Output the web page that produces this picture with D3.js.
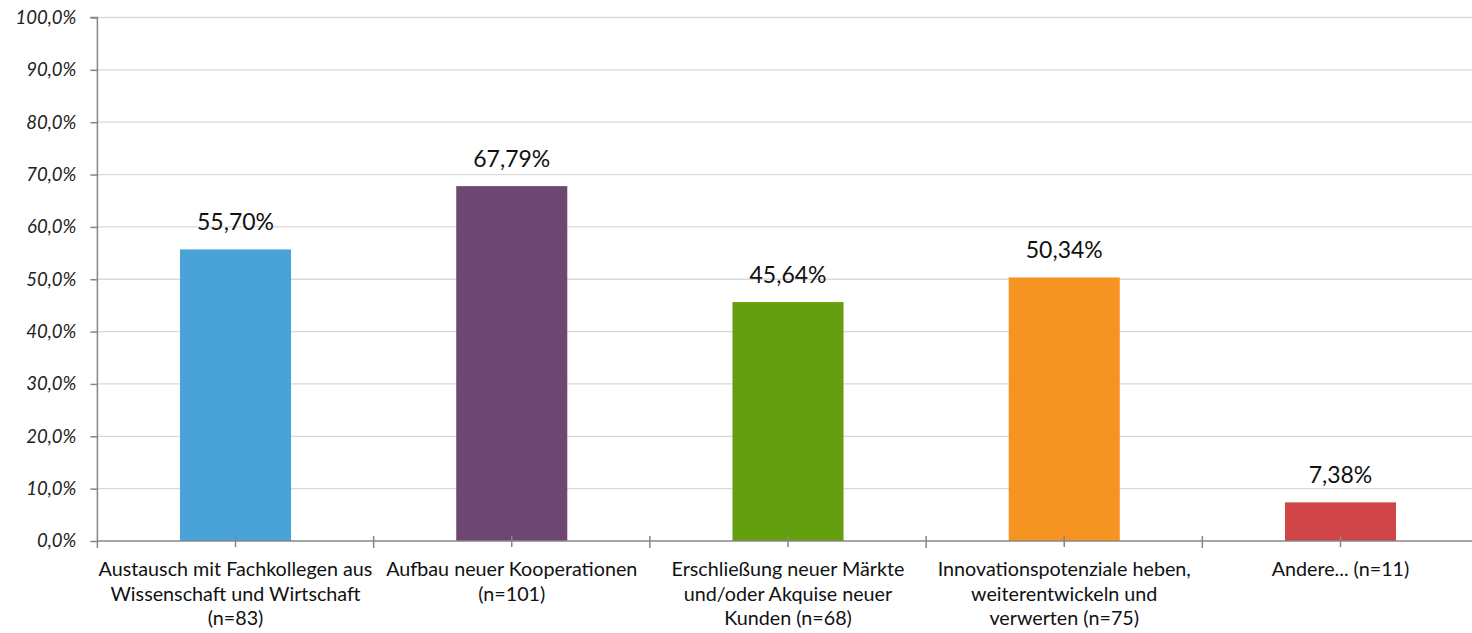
<!DOCTYPE html>
<html>
<head>
<meta charset="utf-8">
<script src="https://cdn.jsdelivr.net/npm/d3@7"></script>
<style>
  html, body { margin: 0; padding: 0; background: #fff; }
  svg { display: block; }
</style>
</head>
<body>
<svg id="chart" width="1472" height="633"></svg>
<script>
const categories = [
  "Austausch mit Fachkollegen aus Wissenschaft und Wirtschaft (n=83)",
  "Aufbau neuer Kooperationen (n=101)",
  "Erschließung neuer Märkte und/oder Akquise neuer Kunden (n=68)",
  "Innovationspotenziale heben, weiterentwickeln und verwerten (n=75)",
  "Andere... (n=11)"
];
const categoryLines = [
  ["Austausch mit Fachkollegen aus", "Wissenschaft und Wirtschaft", "(n=83)"],
  ["Aufbau neuer Kooperationen", "(n=101)"],
  ["Erschließung neuer Märkte", "und/oder Akquise neuer", "Kunden (n=68)"],
  ["Innovationspotenziale heben,", "weiterentwickeln und", "verwerten (n=75)"],
  ["Andere... (n=11)"]
];
const values = [55.70, 67.79, 45.64, 50.34, 7.38];
const valueLabels = ["55,70%", "67,79%", "45,64%", "50,34%", "7,38%"];
const barColors = ["#4aa3d8", "#6d4672", "#639f0e", "#f59421", "#d04547"];
const yTicks = [0, 10, 20, 30, 40, 50, 60, 70, 80, 90, 100];
const yTickLabels = ["0,0%", "10,0%", "20,0%", "30,0%", "40,0%", "50,0%", "60,0%", "70,0%", "80,0%", "90,0%", "100,0%"];

(function () {
const FONT = "Lato, 'Open Sans', 'Liberation Sans', sans-serif";
const svg = d3.select("#chart");

const mLeft = 97.4, mRight = 1478.6, mTop = 17.5, mBottom = 541;
const x = d3.scaleBand().domain(categories).range([mLeft, mRight]).paddingInner(0.598).paddingOuter(0.299);
const xOuter = d3.scaleBand().domain(categories).range([mLeft, mRight]);
const y = d3.scaleLinear().domain([0, 100]).range([mBottom, mTop]);

function fitSize(text, target, style) {
  const t = svg.append("text").attr("font-family", FONT).attr("font-size", 100).attr("font-style", style || "normal").text(text);
  const w = t.node().getComputedTextLength();
  t.remove();
  return 100 * target / w;
}
const catSize = fitSize("Austausch mit Fachkollegen aus", 274);
const valSize = fitSize("55,70%", 77);
const ySize = fitSize("100,0%", 61, "italic");

// gridlines
svg.append("g").selectAll("line").data(yTicks.filter(d => d > 0)).join("line")
  .attr("x1", mLeft).attr("x2", 1472)
  .attr("y1", d => y(d)).attr("y2", d => y(d))
  .attr("stroke", "#d9d9d9").attr("stroke-width", 1.3);

// y axis
const yAxis = d3.axisLeft(y).tickValues(yTicks).tickSize(7).tickPadding(14)
  .tickFormat((d, i) => yTickLabels[i]);
const gy = svg.append("g").attr("transform", `translate(${mLeft},0)`).call(yAxis);
gy.select(".domain").attr("stroke", "#868686").attr("stroke-width", 1.5).attr("d", `M-7,${mTop}H0V${mBottom + 7}`);
gy.selectAll(".tick line").attr("stroke", "#868686").attr("stroke-width", 1.5);
gy.selectAll(".tick text").attr("font-family", FONT).attr("font-style", "italic")
  .attr("font-size", ySize).attr("fill", "#222");

// bars
svg.append("g").selectAll("rect").data(values).join("rect")
  .attr("x", (d, i) => x(categories[i]))
  .attr("width", x.bandwidth())
  .attr("y", d => y(d))
  .attr("height", d => y(0) - y(d))
  .attr("fill", (d, i) => barColors[i]);

// x axis line
svg.append("line").attr("x1", mLeft).attr("x2", 1472).attr("y1", mBottom).attr("y2", mBottom)
  .attr("stroke", "#868686").attr("stroke-width", 1.5);

// boundary ticks
const boundaries = categories.map(c => xOuter(c)).slice(1);
svg.append("g").selectAll("line").data(boundaries).join("line")
  .attr("x1", d => d).attr("x2", d => d).attr("y1", mBottom - 5).attr("y2", mBottom + 7)
  .attr("stroke", "#868686").attr("stroke-width", 1.5);
// center ticks
svg.append("g").selectAll("line").data(categories).join("line")
  .attr("x1", d => x(d) + x.bandwidth() / 2).attr("x2", d => x(d) + x.bandwidth() / 2)
  .attr("y1", mBottom - 5).attr("y2", mBottom + 6)
  .attr("stroke", "#868686").attr("stroke-width", 1.5);

// value labels
svg.append("g").selectAll("text").data(values).join("text")
  .attr("x", (d, i) => x(categories[i]) + x.bandwidth() / 2)
  .attr("y", d => y(d) - 19)
  .attr("text-anchor", "middle")
  .attr("font-family", FONT).attr("font-size", valSize).attr("fill", "#111")
  .text((d, i) => valueLabels[i]);

// category labels
const cg = svg.append("g").selectAll("text").data(categories).join("text")
  .attr("text-anchor", "middle")
  .attr("font-family", FONT).attr("font-size", catSize).attr("fill", "#111");
cg.each(function (c, i) {
  const cx = x(c) + x.bandwidth() / 2;
  d3.select(this).selectAll("tspan").data(categoryLines[i]).join("tspan")
    .attr("x", cx).attr("y", (d, j) => 576 + j * 24.5).text(d => d);
});
})();
</script>
</body>
</html>
